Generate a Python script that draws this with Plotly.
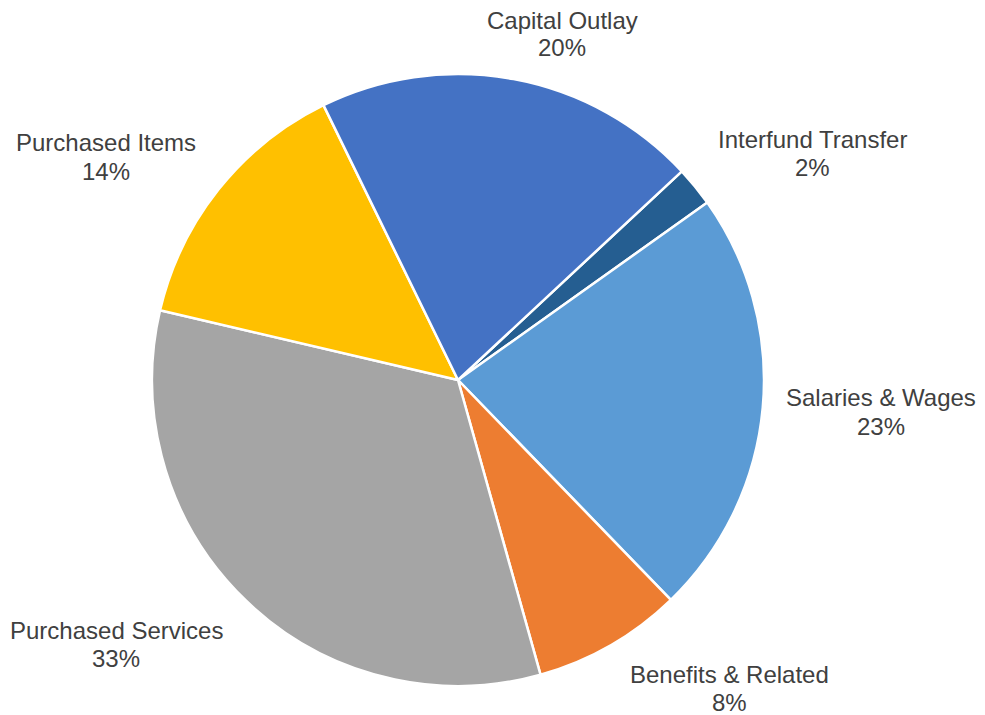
import plotly.graph_objects as go

labels = ["Interfund Transfer", "Salaries & Wages", "Benefits & Related",
          "Purchased Services", "Purchased Items", "Capital Outlay"]
values = [2.1, 22.6, 7.9, 33.0, 14.1, 20.3]
colors = ["#255E91", "#5B9BD5", "#ED7D31", "#A5A5A5", "#FFC000", "#4472C4"]

# label block centres in screen pixels (x, y from top)
label_px = [(812, 153), (881, 412), (729, 688), (116, 644), (106, 157), (562, 34)]

W, H = 985, 715
OFF = 8  # page body margin
cx, cy, r = 458 - OFF, 380 - OFF, 306

fig = go.Figure(go.Pie(
    labels=labels, values=values, sort=False, direction="clockwise",
    rotation=47, textinfo="none", hoverinfo="label+percent",
    marker=dict(colors=colors, line=dict(color="white", width=2.5)),
    domain=dict(x=[(cx - r) / W, (cx + r) / W], y=[1 - (cy + r) / H, 1 - (cy - r) / H]),
    showlegend=False,
))

total = sum(values)
font = dict(family="Liberation Sans, Arial", size=24, color="#404040")
for lab, v, (px, py) in zip(labels, values, label_px):
    x = (px - OFF) / W
    for txt, dy in ((lab, -14), (f"{round(100 * v / total):d}%", 14)):
        fig.add_annotation(
            x=x, y=1 - (py - OFF + dy) / H, xref="paper", yref="paper",
            text=txt, showarrow=False, xanchor="center", yanchor="middle",
            font=font,
        )

fig.update_layout(width=W, height=H, margin=dict(l=0, r=0, t=0, b=0),
                  paper_bgcolor="white", plot_bgcolor="white")
fig.write_html("out.html")
